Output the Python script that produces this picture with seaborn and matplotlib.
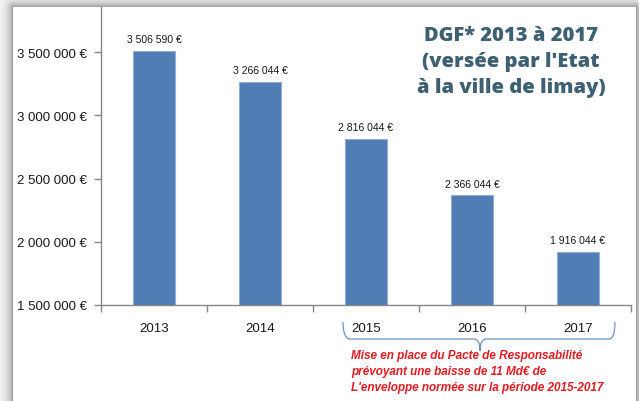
import numpy as np
import pandas as pd
import matplotlib
matplotlib.use("Agg")
import matplotlib.pyplot as plt
import seaborn as sns
from matplotlib.path import Path
from matplotlib.patches import PathPatch
from matplotlib.ticker import FuncFormatter, FixedLocator

# données DGF (versée par l'Etat à Limay)
annees = ["2013", "2014", "2015", "2016", "2017"]
dgf = [3506590, 3266044, 2816044, 2366044, 1916044]
yticks = [1500000, 2000000, 2500000, 3000000, 3500000]

titre = "DGF* 2013 à 2017\n(versée par l'Etat\nà la ville de limay)"
note = ("Mise en place du Pacte de Responsabilité\n"
        "prévoyant une baisse de 11 Md€ de\n"
        "L'enveloppe normée sur la période 2015-2017")

W, H = 639, 402
BLEU = "#4F7DB4"


def euros(v, pos=None):
    return f"{int(round(v)):,}".replace(",", " ") + " €"


def px(x, y):
    # pixel -> coordonnées figure
    return (x / W, 1 - y / H)


sns.set_theme(style="white")
plt.rcParams["font.family"] = ["Liberation Sans", "DejaVu Sans"]

fig = plt.figure(figsize=(W / 100, H / 100), dpi=100)

# fond : panneau blanc avec ombre grise
yy, xx = np.mgrid[0:H, 0:W]
dx = np.maximum(13 - xx, 0) + np.maximum(xx - 635, 0)
dy = np.maximum(8 - yy, 0)
d = np.hypot(dx, dy)
shade = np.where(d > 0, 1 - 0.42 * np.exp(-d / 6.0), 1.0)
bg = np.dstack([shade, shade, shade])
fig.figimage(bg, 0, 0, origin="upper", zorder=-10)

ax = fig.add_axes([101 / W, 1 - 306 / H, (631 - 101) / W, (306 - 8) / H])
ax.set_facecolor("none")
ax.set_zorder(1)

df = pd.DataFrame({"annee": annees, "dgf": dgf})
sns.barplot(data=df, x="annee", y="dgf", color=BLEU, width=0.4,
            edgecolor="#8FAFD8", linewidth=0.8, saturation=1, ax=ax)

ymin = 1500000
ax.set_ylim(ymin, ymin + (306 - 8) / 126.5 * 1e6)
ax.set_xlim(-0.5, 4.5)
ax.set_yticks(yticks)
ax.yaxis.set_major_formatter(FuncFormatter(euros))
ax.xaxis.set_minor_locator(FixedLocator(np.arange(-0.5, 5.0, 1.0)))
ax.set_xlabel("")
ax.set_ylabel("")

for s in ["top", "right"]:
    ax.spines[s].set_visible(False)
for s in ["left", "bottom"]:
    ax.spines[s].set_color("#868686")
    ax.spines[s].set_linewidth(1.0)

ax.tick_params(axis="y", which="major", left=True, length=5, width=1,
               color="#868686", labelsize=9.5, labelcolor="#1a1a1a", pad=5)
ax.tick_params(axis="x", which="major", bottom=False, labelsize=9.5,
               labelcolor="#1a1a1a", pad=6)
ax.tick_params(axis="x", which="minor", bottom=True, length=5, width=1,
               color="#868686")

ax.bar_label(ax.containers[0], labels=[euros(v) for v in dgf],
             padding=5, fontsize=7.5, color="#1a1a1a")

# titre
fig.text(*px(511, 62), titre, ha="center", va="center", fontsize=14.5,
         fontweight=800, color="#3D6073", family="Open Sans",
         linespacing=1.38, zorder=3)

# accolade sous 2015-2017
verts = [px(343, 323), px(343, 338), px(349, 340),
         px(474, 340), px(480, 340), px(480, 352),
         px(480, 340), px(486, 340), px(609, 340),
         px(615, 340), px(615, 323)]
codes = [Path.MOVETO, Path.CURVE3, Path.CURVE3,
         Path.LINETO, Path.CURVE3, Path.CURVE3,
         Path.CURVE3, Path.CURVE3, Path.LINETO,
         Path.CURVE3, Path.CURVE3]
fig.add_artist(PathPatch(Path(verts, codes), transform=fig.transFigure,
                         fill=False, edgecolor="#6F93C9", linewidth=0.9,
                         zorder=3))

fig.text(*px(351, 372), note, ha="left", va="center", fontsize=8.5,
         fontweight="bold", fontstyle="italic", color="#E41C23",
         linespacing=1.4, zorder=3)

fig.savefig("out.png", dpi=100)
